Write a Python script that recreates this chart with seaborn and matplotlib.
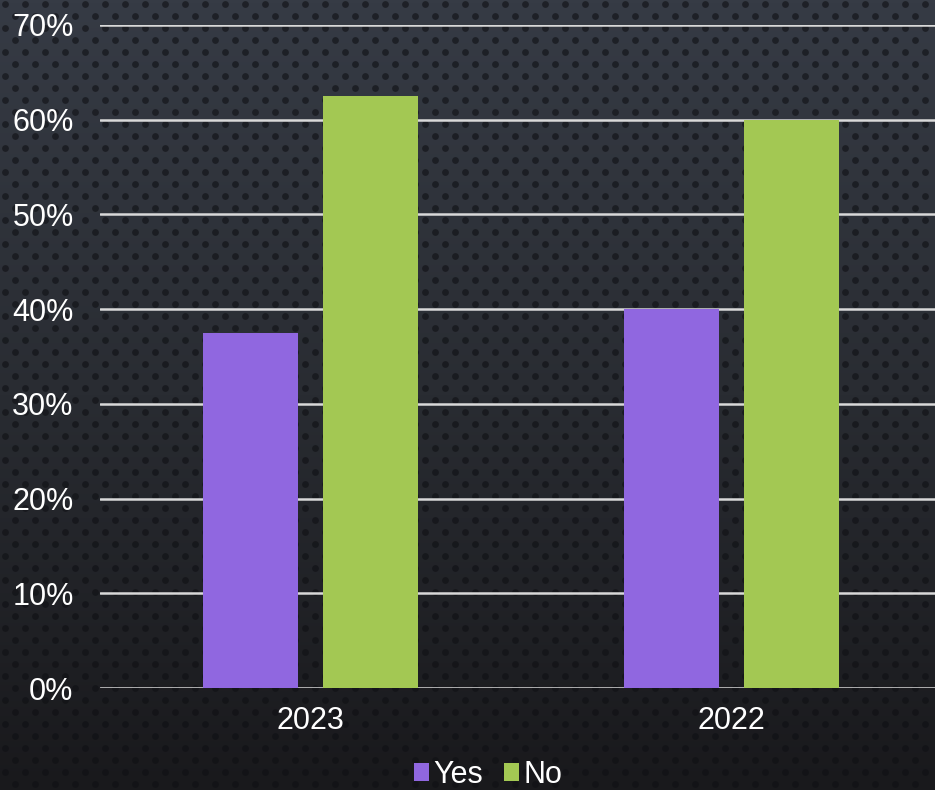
import numpy as np
import pandas as pd
import matplotlib
matplotlib.use("Agg")
import matplotlib.pyplot as plt
import seaborn as sns
from matplotlib.ticker import PercentFormatter
from matplotlib.colors import LinearSegmentedColormap

# data
years = ["2023", "2022"]
answers = ["Yes", "No"]
yes_share = [0.375, 0.40]
no_share = [0.625, 0.60]
colors = ["#9067e0", "#a3c853"]

df = pd.DataFrame({
    "year": years * 2,
    "answer": ["Yes"] * len(years) + ["No"] * len(years),
    "share": yes_share + no_share,
})

sns.set_theme(style="white")
plt.rcParams["font.family"] = ["Liberation Sans", "DejaVu Sans"]

W, H = 935, 790
fig = plt.figure(figsize=(W / 100, H / 100), dpi=100)

# textured dark background: vertical gradient + dotted pattern
bg = fig.add_axes([0, 0, 1, 1], zorder=-10)
grad_cmap = LinearSegmentedColormap.from_list("bg", ["#19191c", "#292c32", "#363b45"])
grad = np.linspace(0, 1, 256).reshape(-1, 1)
bg.imshow(grad, aspect="auto", cmap=grad_cmap, extent=[0, W, 0, H], origin="lower")
gx, gy = [], []
for i, yy in enumerate(np.arange(4, H, 12)):
    off = 0 if i % 2 == 0 else 10
    for xx in np.arange(5 + off, W, 20):
        gx.append(xx)
        gy.append(H - yy)
bg.scatter(gx, gy, s=24, color="#0f1014", alpha=0.6, linewidths=0)
bg.set_xlim(0, W)
bg.set_ylim(0, H)
bg.axis("off")

# plot area runs slightly past the right edge, as in the original slide
ax = fig.add_axes([100 / W, 1 - 688 / H, 842 / W, (688 - 25) / H])
ax.set_facecolor("none")

sns.barplot(data=df, x="year", y="share", hue="answer", hue_order=answers,
            palette=colors, width=0.570, gap=0.208, saturation=1,
            edgecolor="none", ax=ax, zorder=3)

ax.set_ylim(0, 0.70)
ax.set_yticks(np.arange(0, 0.71, 0.10))
ax.yaxis.set_major_formatter(PercentFormatter(1.0, decimals=0))
ax.yaxis.grid(True, color="#d9d9d9", linewidth=1.8, zorder=0)
ax.set_axisbelow(True)
for s in ax.spines.values():
    s.set_visible(False)
ax.tick_params(axis="y", length=0, pad=19, labelsize=22, labelcolor="white")
ax.tick_params(axis="x", length=0, pad=13, labelsize=22, labelcolor="white")
ax.set_xlabel("")
ax.set_ylabel("")

handles, labels = ax.get_legend_handles_labels()
ax.get_legend().remove()
fig.legend(handles, labels, loc="center", bbox_to_anchor=(488 / W, 1 - 775 / H),
           ncol=2, frameon=False, fontsize=22, labelcolor="white",
           handlelength=0.5, handleheight=0.5, handletextpad=0.12,
           columnspacing=0.7)

fig.savefig("out.png", dpi=100, facecolor=fig.get_facecolor())
